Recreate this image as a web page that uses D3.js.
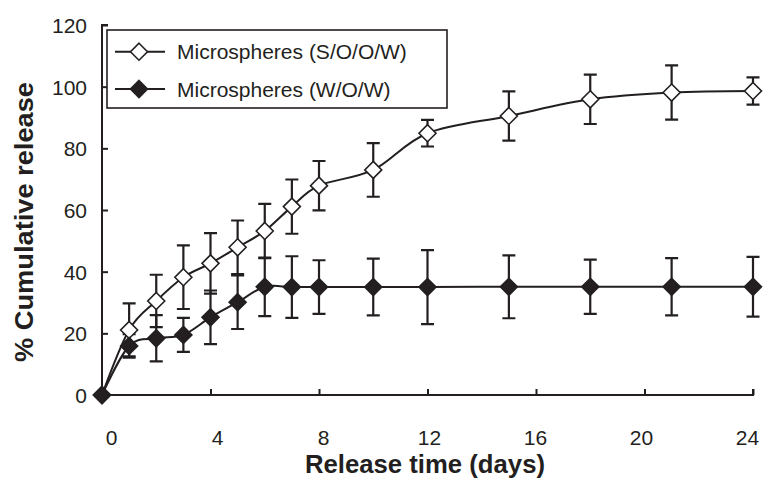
<!DOCTYPE html>
<html>
<head>
<meta charset="utf-8">
<script src="https://cdn.jsdelivr.net/npm/d3@7"></script>
<style>
  html, body { margin: 0; padding: 0; background: #fff; }
  svg { display: block; }
  text { font-family: "Liberation Sans", Arial, sans-serif; fill: #231f20; }
</style>
</head>
<body>
<script>
// ---- data ----
const days = [0, 1, 2, 3, 4, 5, 6, 7, 8, 10, 12, 15, 18, 21, 24];
const soowValues = [0, 21.1, 30.5, 38.2, 42.7, 47.9, 53.2, 61.1, 67.9, 73.0, 84.9, 90.5, 95.9, 98.1, 98.6];
const soowErrors = [0, 8.6, 8.5, 10.3, 9.8, 8.7, 8.8, 8.8, 8.0, 8.7, 4.3, 8.0, 8.0, 8.8, 4.4];
const wowValues = [0, 15.9, 18.4, 19.5, 25.2, 30.1, 35.1, 35.0, 35.0, 35.0, 35.0, 35.1, 35.1, 35.1, 35.1];
const wowErrors = [0, 3.8, 7.5, 5.5, 8.7, 8.7, 9.5, 10.0, 8.7, 9.2, 12.0, 10.2, 8.8, 9.3, 9.7];
const seriesNames = ["Microspheres (S/O/O/W)", "Microspheres (W/O/W)"];
const xTicks = [0, 4, 8, 12, 16, 20, 24];
const yTicks = [0, 20, 40, 60, 80, 100, 120];
const xTitle = "Release time (days)";
const yTitle = "% Cumulative release";

// ---- layout ----
const W = 777, H = 492;
const ink = "#231f20";
const svg = d3.select("body").append("svg").attr("width", W).attr("height", H);
svg.append("rect").attr("width", W).attr("height", H).attr("fill", "#fff");

const x = d3.scaleLinear().domain([0, 24]).range([102, 753]);
const xLabel = d3.scaleLinear().domain([0, 24]).range([111, 747]);
const y = d3.scaleLinear().domain([0, 120]).range([395, 25]);

// axes
const xAxis = svg.append("g").attr("transform", `translate(0,${y(0)})`)
  .call(d3.axisBottom(x).tickValues(xTicks).tickSize(-6).tickFormat(""));
xAxis.selectAll("path,line").attr("stroke", ink).attr("stroke-width", 2);
xAxis.select(".domain").attr("d", `M${x(0)},0H${x(24)}V-6`);

const xLab = svg.append("g").attr("transform", `translate(0,${y(0)})`)
  .call(d3.axisBottom(xLabel).tickValues(xTicks).tickSize(0).tickPadding(35));
xLab.select(".domain").remove();
xLab.selectAll("text").attr("font-size", 21).attr("font-family", "Liberation Sans, Arial, sans-serif").attr("fill", ink);

const yAxis = svg.append("g").attr("transform", `translate(${x(0)},0)`)
  .call(d3.axisLeft(y).tickValues(yTicks).tickSize(-6).tickPadding(15));
yAxis.selectAll("path,line").attr("stroke", ink).attr("stroke-width", 2);
yAxis.select(".domain").attr("d", `M6,${y(120)}H0V${y(0)}`);
yAxis.selectAll("text").attr("font-size", 21).attr("font-family", "Liberation Sans, Arial, sans-serif").attr("fill", ink).attr("dy", "0.36em");

// titles
svg.append("text").attr("x", 425).attr("y", 473).attr("text-anchor", "middle")
  .attr("font-size", 26).attr("font-weight", "bold")
  .attr("textLength", 240).attr("lengthAdjust", "spacingAndGlyphs").text(xTitle);
svg.append("text").attr("transform", "translate(33,222) rotate(-90)").attr("text-anchor", "middle")
  .attr("font-size", 26).attr("font-weight", "bold")
  .attr("textLength", 280).attr("lengthAdjust", "spacingAndGlyphs").text(yTitle);

// series
const series = [
  { name: seriesNames[0], vals: soowValues, errs: soowErrors, fill: "#fff" },
  { name: seriesNames[1], vals: wowValues, errs: wowErrors, fill: ink }
];
const line = d3.line().x(d => x(d[0])).y(d => y(d[1])).curve(d3.curveCardinal.tension(0));
const diamond = s => `M0,${-s}L${s},0L0,${s}L${-s},0Z`;
const R = 8.5, cap = 6.5;

series.forEach(s => {
  const pts = days.map((d, i) => [d, s.vals[i]]);
  svg.append("path").attr("d", line(pts)).attr("fill", "none").attr("stroke", ink).attr("stroke-width", 2);
});
series.forEach(s => {
  const g = svg.append("g");
  days.forEach((d, i) => {
    if (!s.errs[i]) return;
    const cx = x(d), y1 = y(s.vals[i] + s.errs[i]), y2 = y(s.vals[i] - s.errs[i]);
    g.append("path").attr("d", `M${cx},${y1}V${y2}M${cx - cap},${y1}H${cx + cap}M${cx - cap},${y2}H${cx + cap}`)
      .attr("fill", "none").attr("stroke", ink).attr("stroke-width", 2.2);
  });
});
series.forEach(s => {
  svg.append("g").selectAll("path").data(days).join("path")
    .attr("transform", (d, i) => `translate(${x(d)},${y(s.vals[i])})`)
    .attr("d", diamond(R)).attr("fill", s.fill).attr("stroke", ink).attr("stroke-width", 1.6);
});

// legend
svg.append("rect").attr("x", 107).attr("y", 30).attr("width", 340).attr("height", 78)
  .attr("fill", "#fff").attr("stroke", ink).attr("stroke-width", 1.6);
series.forEach((s, i) => {
  const cy = 51.7 + i * 37.3;
  svg.append("line").attr("x1", 115).attr("x2", 165).attr("y1", cy).attr("y2", cy).attr("stroke", ink).attr("stroke-width", 2);
  svg.append("path").attr("transform", `translate(139,${cy})`).attr("d", diamond(R)).attr("fill", s.fill).attr("stroke", ink).attr("stroke-width", 1.6);
  svg.append("text").attr("x", 177).attr("y", cy).attr("dy", "0.36em").attr("font-size", 21).text(s.name);
});
</script>
</body>
</html>
